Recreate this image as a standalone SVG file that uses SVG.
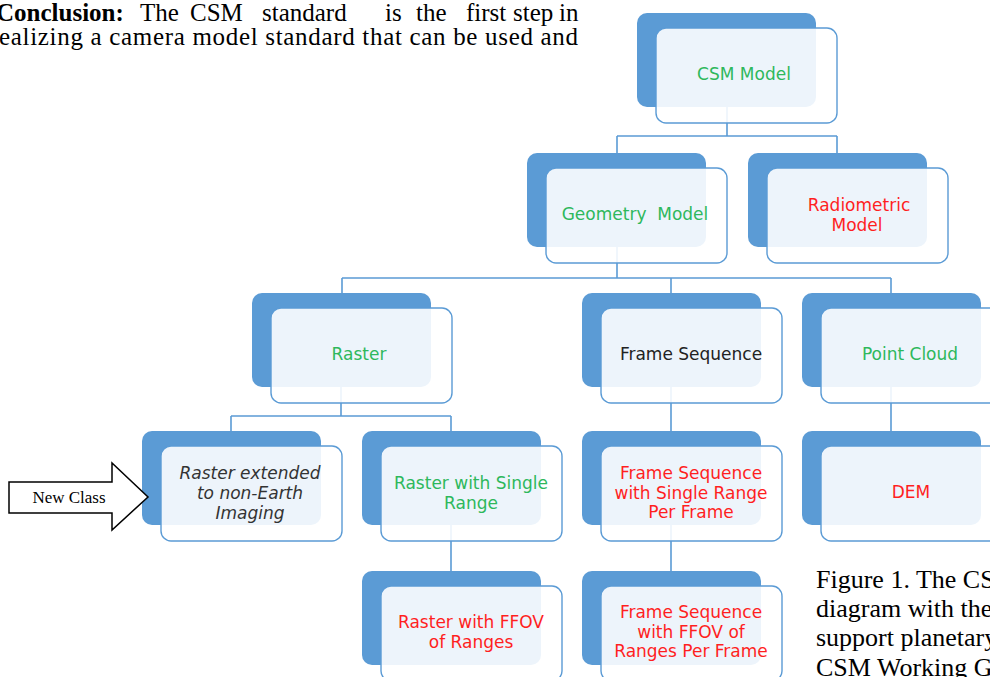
<svg xmlns="http://www.w3.org/2000/svg" width="990" height="677" viewBox="0 0 990 677">
<style>
.bk{fill:#5B9BD5;}
.fr{fill:#FFFFFF;fill-opacity:0.89;stroke:#5B9BD5;stroke-width:1.4;}
.cn{fill:none;stroke:#5B9BD5;stroke-width:1.6;}
.t{font-family:"DejaVu Sans",Verdana,sans-serif;font-size:17px;text-anchor:middle;}
.g{fill:#2EB85C;}
.r{fill:#FF1F1F;}
.k{fill:#222222;}
.i{fill:#333333;font-style:italic;}
.tm{font-family:"Liberation Serif","Times New Roman",serif;fill:#000;}
</style>
<rect width="990" height="677" fill="#FFFFFF"/>
<text class="tm" font-size="25" y="21"><tspan x="-4" font-weight="bold">Conclusion:</tspan><tspan x="140">The</tspan><tspan x="190">CSM</tspan><tspan x="262">standard</tspan><tspan x="385">is</tspan><tspan x="416">the</tspan><tspan x="466">first</tspan><tspan x="513">step</tspan><tspan x="559">in</tspan></text>
<text class="tm" font-size="25" x="-1" y="45" textLength="579" lengthAdjust="spacing">ealizing a camera model standard that can be used and</text>
<g id="connectors">
<path class="cn" d="M727 107V136M617 136H837M617 136V153M837 136V153"/>
<path class="cn" d="M617 247V278M342 278H891M342 278V293M671 278V293M891 278V293"/>
<path class="cn" d="M341 387V416M231 416H451M231 416V431M451 416V431"/>
<path class="cn" d="M671 387V431M891 387V431"/>
<path class="cn" d="M451 525V571M671 525V571"/>
</g>
<g id="csm-model"><rect class="bk" x="637" y="13" width="179" height="94" rx="10"/><rect class="fr" x="656" y="28" width="181" height="95" rx="10"/><text class="t g" x="744" y="80">CSM Model</text></g>
<g id="geometry-model"><rect class="bk" x="527" y="153" width="179" height="94" rx="10"/><rect class="fr" x="546" y="168" width="181" height="95" rx="10"/><text class="t g" x="635" y="220" xml:space="preserve">Geometry  Model</text></g>
<g id="radiometric-model"><rect class="bk" x="748" y="153" width="179" height="94" rx="10"/><rect class="fr" x="767" y="168" width="181" height="95" rx="10"/><text class="t r" x="859" y="211">Radiometric</text><text class="t r" x="857" y="231">Model</text></g>
<g id="raster"><rect class="bk" x="252" y="293" width="179" height="94" rx="10"/><rect class="fr" x="271" y="308" width="181" height="95" rx="10"/><text class="t g" x="359" y="360">Raster</text></g>
<g id="frame-sequence"><rect class="bk" x="582" y="293" width="179" height="94" rx="10"/><rect class="fr" x="601" y="308" width="181" height="95" rx="10"/><text class="t k" x="691" y="360">Frame Sequence</text></g>
<g id="point-cloud"><rect class="bk" x="802" y="293" width="179" height="94" rx="10"/><rect class="fr" x="821" y="308" width="181" height="95" rx="10"/><text class="t g" x="910" y="360">Point Cloud</text></g>
<g id="raster-extended"><rect class="bk" x="142" y="431" width="179" height="94" rx="10"/><rect class="fr" x="161" y="446" width="181" height="95" rx="10"/><text class="t i" x="250" y="479">Raster extended</text><text class="t i" x="250" y="499">to non-Earth</text><text class="t i" x="250" y="519">Imaging</text></g>
<g id="raster-single-range"><rect class="bk" x="362" y="431" width="179" height="94" rx="10"/><rect class="fr" x="381" y="446" width="181" height="95" rx="10"/><text class="t g" x="471" y="489">Raster with Single</text><text class="t g" x="471" y="509">Range</text></g>
<g id="frame-sequence-single-range"><rect class="bk" x="582" y="431" width="179" height="94" rx="10"/><rect class="fr" x="601" y="446" width="181" height="95" rx="10"/><text class="t r" x="691" y="479">Frame Sequence</text><text class="t r" x="691" y="499">with Single Range</text><text class="t r" x="691" y="518">Per Frame</text></g>
<g id="dem"><rect class="bk" x="802" y="431" width="179" height="94" rx="10"/><rect class="fr" x="821" y="446" width="181" height="95" rx="10"/><text class="t r" x="911" y="498">DEM</text></g>
<g id="raster-ffov"><rect class="bk" x="362" y="571" width="179" height="94" rx="10"/><rect class="fr" x="381" y="586" width="181" height="95" rx="10"/><text class="t r" x="471" y="628">Raster with FFOV</text><text class="t r" x="471" y="648">of Ranges</text></g>
<g id="frame-sequence-ffov"><rect class="bk" x="582" y="571" width="179" height="94" rx="10"/><rect class="fr" x="601" y="586" width="181" height="95" rx="10"/><text class="t r" x="691" y="618">Frame Sequence</text><text class="t r" x="691" y="638">with FFOV of</text><text class="t r" x="691" y="657">Ranges Per Frame</text></g>
<g id="new-class"><polygon points="9,482 112,482 112,463 148,497 112,530 112,513 9,513" fill="#FFFFFF" stroke="#000000" stroke-width="1.5"/><text class="tm" font-size="17" x="69" y="503" text-anchor="middle">New Class</text></g>
<g id="caption" class="tm" font-size="26"><text x="816" y="588">Figure 1. The CS</text><text x="816" y="617">diagram with the</text><text x="816" y="646">support planetary</text><text x="816" y="676">CSM Working G</text></g>
</svg>
